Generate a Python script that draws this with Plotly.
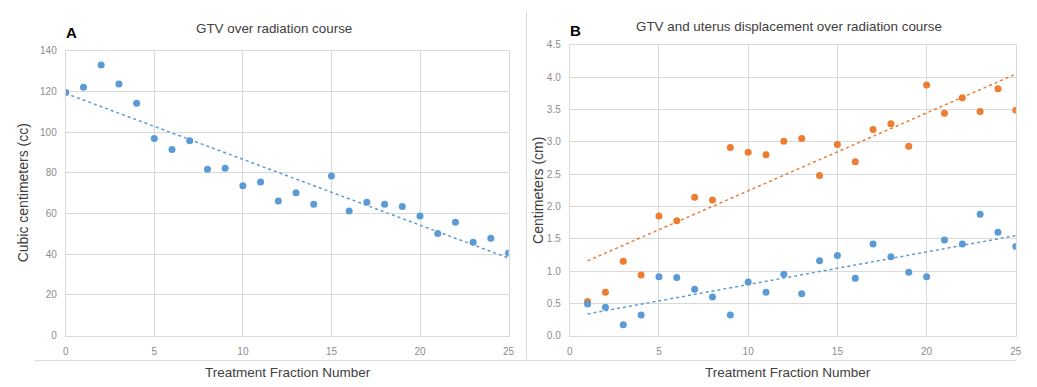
import numpy as np
import plotly.graph_objects as go

# ---- data ----
fraction_a = list(range(0, 26))
gtv_volume_cc = [119.5, 122.0, 133.0, 123.6, 114.2, 96.8, 91.5, 95.7, 81.7, 82.2,
                 73.7, 75.5, 66.1, 70.2, 64.5, 78.4, 61.2, 65.6, 64.5, 63.5,
                 58.8, 50.2, 55.7, 45.9, 47.9, 40.6]

fraction_b = list(range(1, 26))
uterus_disp_cm = [0.53, 0.67, 1.15, 0.94, 1.85, 1.78, 2.14, 2.10, 2.91, 2.84,
                  2.80, 3.01, 3.05, 2.48, 2.96, 2.69, 3.19, 3.28, 2.93, 3.88,
                  3.44, 3.68, 3.47, 3.82, 3.49]
gtv_disp_cm = [0.49, 0.44, 0.17, 0.32, 0.91, 0.90, 0.72, 0.60, 0.32, 0.83,
               0.67, 0.95, 0.65, 1.16, 1.24, 0.89, 1.42, 1.22, 0.98, 0.91,
               1.48, 1.42, 1.88, 1.60, 1.38]

x_ticks = [0, 5, 10, 15, 20, 25]
y_ticks_a = [0, 20, 40, 60, 80, 100, 120, 140]
y_ticks_b = [0.0, 0.5, 1.0, 1.5, 2.0, 2.5, 3.0, 3.5, 4.0, 4.5]

BLUE = "#5B9BD5"
ORANGE = "#ED7D31"
GRID = "#D9D9D9"
TICK = "#8C8C8C"
TXT = "#404040"
FONT = "Liberation Sans, Arial, sans-serif"

W, H = 1037, 387


def px(x):
    return x / W


def py(y):
    return 1 - y / H


def trend(x, y):
    m, b = np.polyfit(x, y, 1)
    xs = [min(x), max(x)]
    return xs, [m * v + b for v in xs]


fig = go.Figure()

# Panel A
fig.add_trace(go.Scatter(x=fraction_a, y=gtv_volume_cc, mode="markers",
                         marker=dict(color=BLUE, size=7), xaxis="x", yaxis="y",
                         showlegend=False))
tx, ty = trend(fraction_a, gtv_volume_cc)
fig.add_trace(go.Scatter(x=tx, y=ty, mode="lines",
                         line=dict(color=BLUE, width=1.5, dash="dot"),
                         xaxis="x", yaxis="y", showlegend=False))

# Panel B
fig.add_trace(go.Scatter(x=fraction_b, y=uterus_disp_cm, mode="markers",
                         marker=dict(color=ORANGE, size=7), xaxis="x2", yaxis="y2",
                         showlegend=False))
tx, ty = trend(fraction_b, uterus_disp_cm)
fig.add_trace(go.Scatter(x=tx, y=ty, mode="lines",
                         line=dict(color=ORANGE, width=1.5, dash="dot"),
                         xaxis="x2", yaxis="y2", showlegend=False))
fig.add_trace(go.Scatter(x=fraction_b, y=gtv_disp_cm, mode="markers",
                         marker=dict(color=BLUE, size=7), xaxis="x2", yaxis="y2",
                         showlegend=False))
tx, ty = trend(fraction_b, gtv_disp_cm)
fig.add_trace(go.Scatter(x=tx, y=ty, mode="lines",
                         line=dict(color=BLUE, width=1.5, dash="dot"),
                         xaxis="x2", yaxis="y2", showlegend=False))

common_x = dict(range=[0, 25], tickvals=x_ticks, showgrid=True, gridcolor=GRID,
                gridwidth=1, zeroline=False, showline=True, linecolor=GRID,
                mirror=True, tickfont=dict(size=10, color=TICK, family=FONT),
                ticks="", ticklabelstandoff=6, fixedrange=True)
common_y = dict(showgrid=True, gridcolor=GRID, gridwidth=1, zeroline=False,
                showline=True, linecolor=GRID, mirror=True,
                tickfont=dict(size=10, color=TICK, family=FONT), ticks="",
                ticklabelstandoff=6, fixedrange=True)

fig.update_layout(
    width=W, height=H,
    margin=dict(l=0, r=0, t=0, b=0),
    paper_bgcolor="white", plot_bgcolor="white",
    font=dict(family=FONT, color=TXT),
    xaxis=dict(domain=[px(63.3), px(510)], anchor="y", **common_x),
    yaxis=dict(domain=[py(339.3), py(46)], anchor="x", range=[0, 140],
               tickvals=y_ticks_a, **common_y),
    xaxis2=dict(domain=[px(571.7), px(1021.7)], anchor="y2", **common_x),
    yaxis2=dict(domain=[py(339.3), py(40)], anchor="x2", range=[0, 4.5],
                tickvals=y_ticks_b, tickformat=".1f", **common_y),
)

ann = []
ann.append(dict(text="<b>A</b>", x=px(69), y=py(27), font=dict(size=15, color="#000000")))
ann.append(dict(text="GTV over radiation course", x=px(273), y=py(23), font=dict(size=13.4, color=TXT)))
ann.append(dict(text="<b>B</b>", x=px(578), y=py(25), font=dict(size=15, color="#000000")))
ann.append(dict(text="GTV and uterus displacement over radiation course", x=px(793), y=py(21),
                font=dict(size=13.4, color=TXT)))
ann.append(dict(text="Treatment Fraction Number", x=px(287), y=py(377), font=dict(size=13.5, color=TXT)))
ann.append(dict(text="Treatment Fraction Number", x=px(792), y=py(377), font=dict(size=13.5, color=TXT)))
ann.append(dict(text="Cubic centimeters (cc)", x=px(20), y=py(192), textangle=-90,
                font=dict(size=14, color=TXT)))
ann.append(dict(text="Centimeters (cm)", x=px(539), y=py(190), textangle=-90,
                font=dict(size=14, color=TXT)))
for a in ann:
    a.update(xref="paper", yref="paper", showarrow=False, xanchor="center", yanchor="middle")
    a["font"]["family"] = FONT
fig.update_layout(annotations=ann)

# separator lines
fig.add_shape(type="line", xref="paper", yref="paper", x0=px(32), x1=px(528), y0=py(365), y1=py(365),
              line=dict(color=GRID, width=1))
fig.add_shape(type="line", xref="paper", yref="paper", x0=px(528), x1=px(1022), y0=py(365), y1=py(365),
              line=dict(color=GRID, width=1))
fig.add_shape(type="line", xref="paper", yref="paper", x0=px(528), x1=px(528), y0=py(5), y1=py(364),
              line=dict(color=GRID, width=1))

fig.write_html("out.html",
               config={"displayModeBar": False, "staticPlot": True},
               post_script="document.body.style.margin='0';document.body.style.overflow='hidden';")
